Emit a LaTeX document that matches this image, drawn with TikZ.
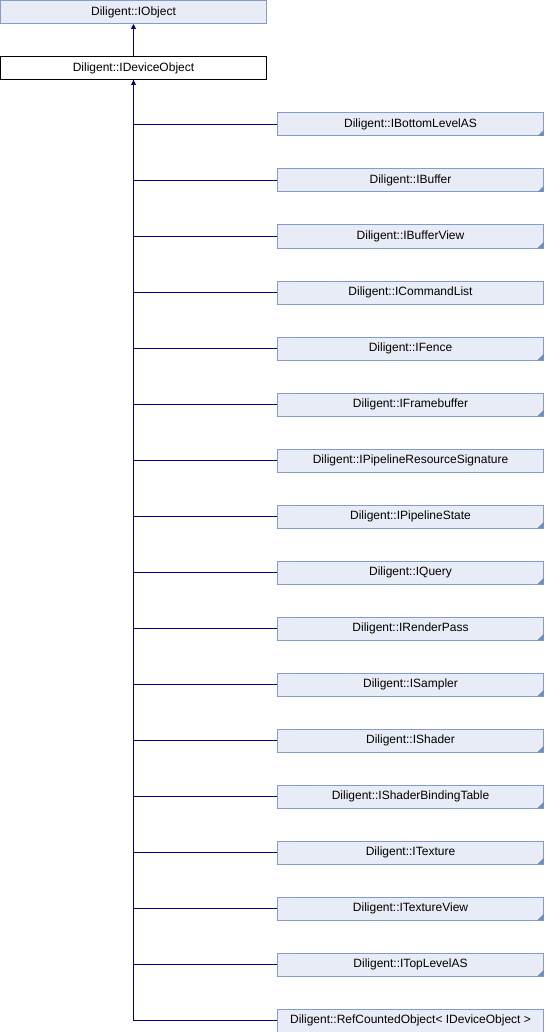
\documentclass[tikz,border=0pt]{standalone}
\usepackage{fontspec}
\setmainfont{Liberation Sans}
\usetikzlibrary{arrows.meta}
\definecolor{boxfill}{RGB}{232,236,246}
\definecolor{boxline}{RGB}{132,155,204}
\definecolor{cornerblue}{RGB}{108,140,200}
\definecolor{linkblue}{RGB}{0,0,128}
\tikzset{
  x=1pt, y=1pt,
  classbox/.style={draw=boxline, fill=boxfill, line width=1pt, minimum width=266pt,
    minimum height=23pt, inner sep=0pt, font=\fontsize{12}{14}\selectfont},
  focusbox/.style={classbox, draw=black, fill=white},
  link/.style={draw=linkblue, line width=1pt},
  inherit/.style={link, {Triangle[length=5pt,width=5pt]}-},
  cornermark/.style={fill=cornerblue}
}
\begin{document}
\begin{tikzpicture}
\useasboundingbox (0,0) rectangle (544,-1032);

\node[classbox] (iobject) at (133.5,-12) {Diligent::IObject};
\node[focusbox] (ido) at (133.5,-68) {Diligent::IDeviceObject};
\draw[inherit] (iobject.south) -- (ido.north);

% derived interfaces, one row every 56pt; \tri marks a folded corner
\foreach \name/\label/\tri [count=\k from 0] in {
  blas/IBottomLevelAS/1,
  buf/IBuffer/1,
  bufview/IBufferView/1,
  cmdlist/ICommandList/0,
  fence/IFence/1,
  fb/IFramebuffer/1,
  prs/IPipelineResourceSignature/0,
  pso/IPipelineState/1,
  query/IQuery/1,
  rp/IRenderPass/1,
  sampler/ISampler/1,
  shader/IShader/1,
  sbt/IShaderBindingTable/1,
  tex/ITexture/1,
  texview/ITextureView/1,
  tlas/ITopLevelAS/1}
{
  \node[classbox] (\name) at (410.5,-124.5-56*\k) {Diligent::\label};
  \ifnum\tri=1
    \fill[cornermark] ([shift={(-0.5,0.5)}]\name.south east) -- ++(0,6) -- ++(-6,-6) -- cycle;
  \fi
  \draw[link] (\name.west) -| (ido.south);
}
\node[classbox] (refcounted) at (410.5,-1020.5) {Diligent::RefCountedObject< IDeviceObject >};
\draw[inherit] (ido.south) |- (refcounted.west);
\end{tikzpicture}
\end{document}
